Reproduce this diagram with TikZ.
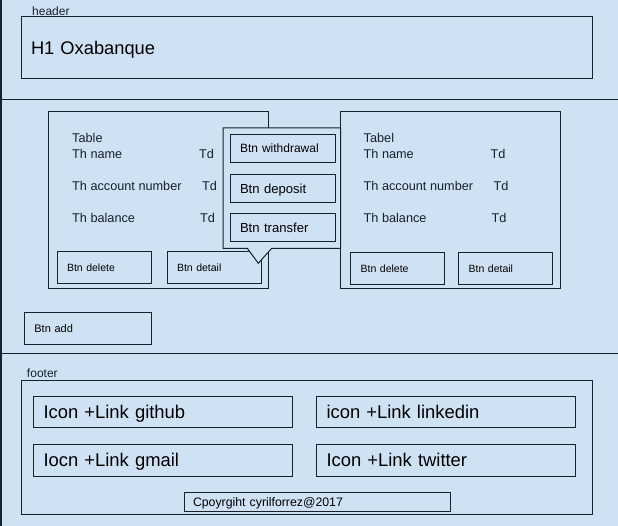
\documentclass[tikz,border=0pt]{standalone}
\usepackage{fontspec}
\setmainfont{Liberation Sans}
\usepackage{xcolor}
\usepackage{tikz}
\usetikzlibrary{calc}
\usetikzlibrary{positioning}

\definecolor{pagebg}{HTML}{CFE2F3}
\definecolor{ink}{HTML}{17212B}

\begin{document}
\begin{tikzpicture}[x=1pt, y=-1pt,
    frame/.style={draw=ink, line width=1pt, fill=pagebg, outer sep=0pt},
    uibox/.style 2 args={frame, anchor=north west, align=left, text depth=0pt,
      inner xsep=10pt, inner ysep=0pt, text width=#1, minimum height=#2},
    tagtext/.style={anchor=west, inner sep=0pt, text=ink},
    fs/.style={font=\fontsize{#1}{#1}\selectfont}]

    \useasboundingbox (0, 0) rectangle (618, 526);
    \fill [pagebg] (0, 0) rectangle (618, 526); % page
    \draw [ink, line width=1.5pt] (1, 0) -- (1, 526); % left edge
    \draw [ink, line width=1pt] (0, 99.3) -- (618, 99.3); % header | main
    \draw [ink, line width=1pt] (0, 353.5) -- (618, 353.5); % main | footer

    % header
    \node [tagtext, fs=12] (hdr-tag) at (32, 11.5) {header};
    \node [uibox={551}{62}, fs=18.3] (hdr) at (21, 17) {H1 Oxabanque};

    % the two tables
    \node [frame, anchor=north west, inner sep=0pt,
      minimum width=220, minimum height=177] (t1) at (48, 112) {};
    \node [uibox={74}{32}, fs=10.5] (t1-del) at (57, 252) {Btn delete};
    \node [uibox={74}{32}, fs=10.5, right=16pt of t1-del] (t1-det) {Btn detail};

    \node [frame, anchor=north west, inner sep=0pt,
      minimum width=219.5, minimum height=177] (t2) at (340.5, 112) {};
    \node [uibox={73.6}{32}, fs=10.5] (t2-del) at (350.7, 252.3) {Btn delete};
    \node [uibox={73.6}{32}, fs=10.5, right=14.4pt of t2-del] (t2-det) {Btn detail};

    \foreach \tbl/\lx/\ttl in {t1/72/Table, t2/363.5/Tabel} {
      \node [tagtext, fs=12.7] (\tbl-title) at (\lx, 138.3) {\ttl};
      \foreach \th/\yy/\dx [count=\i] in {name/154.3/127, account number/186/130,
        balance/217.7/128} {
        \node [tagtext, fs=12.7] (\tbl-th\i) at (\lx, \yy) {Th \th};
        \node [tagtext, fs=12.7] (\tbl-td\i) at (\lx+\dx, \yy) {Td};
      }
    }

    % popover with its pointer
    \draw [frame] (223, 128) -- (340.5, 128) -- (340.5, 248.3) -- (271.7, 248.3)
      -- (258.3, 263.3) -- (247.3, 248.3) -- (223, 248.3) -- cycle;
    \node [uibox={85}{28}, fs=12] (pop-wd) at (230, 134.3) {Btn withdrawal};
    \node [uibox={85}{28}, fs=13.1, below=12pt of pop-wd] (pop-dep) {Btn deposit};
    \node [uibox={85}{28}, fs=13.1, below=11pt of pop-dep] (pop-tr) {Btn transfer};

    \node [uibox={107.3}{31.3}, fs=11] (add) at (24.4, 313) {Btn add};

    % footer
    \node [tagtext, fs=12] (ftr-tag) at (26.8, 373) {footer};
    \node [frame, anchor=north west, inner sep=0pt,
      minimum width=570.7, minimum height=134] (ftr) at (21.7, 380) {};
    \node [uibox={239}{31.5}, fs=18.4] (gh) at (33.5, 396) {Icon +Link github};
    \node [uibox={239}{31.5}, fs=18.4, right=24pt of gh] (li) {icon +Link linkedin};
    \node [uibox={239}{32}, fs=18.4] (gm) at (33.5, 444) {Iocn +Link gmail};
    \node [uibox={239}{32}, fs=18.4, right=24pt of gm] (tw) {Icon +Link twitter};
    \node [uibox={249}{19.3}, fs=12.3, inner xsep=8.5pt] (copy) at (184.5, 492)
      {Cpoyrgiht cyrilforrez@2017};

\end{tikzpicture}
\end{document}
